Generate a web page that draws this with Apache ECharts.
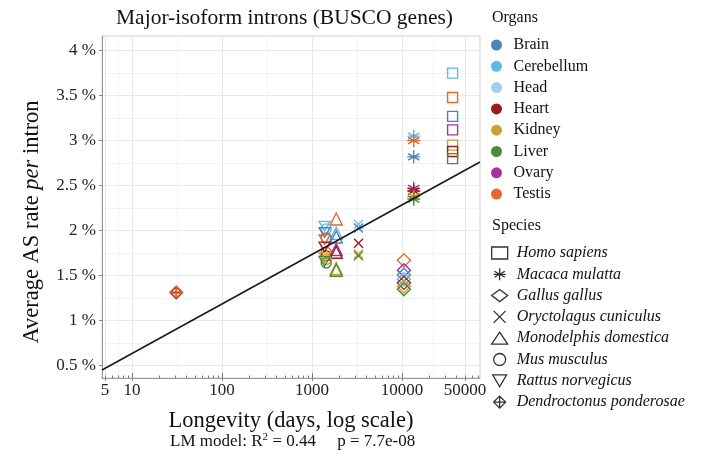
<!DOCTYPE html>
<html><head><meta charset="utf-8">
<script src="https://cdn.jsdelivr.net/npm/echarts@6/dist/echarts.min.js"></script>
<style>html,body{margin:0;padding:0;background:#fff}#c{width:722px;height:461px}</style>
</head><body><div id="c"></div>
<script>
// ---- data ----
const organs = ['Brain','Cerebellum','Head','Heart','Kidney','Liver','Ovary','Testis'];
const organColors = ['#4f82b4','#5bbbe6','#a3cde8','#9b1c20','#c9a331','#4a8a3a','#a8329e','#e2682c'];
const species = ['Homo sapiens','Macaca mulatta','Gallus gallus','Oryctolagus cuniculus','Monodelphis domestica','Mus musculus','Rattus norvegicus','Dendroctonus ponderosae'];
const longevity = [36500, 13500, 10500, 3285, 1860, 1440, 1380, 31];
const homoOrgans = ['Cerebellum','Testis','Brain','Ovary','Kidney','Heart','Liver'];
const homoRates  = [3.75, 3.48, 3.27, 3.12, 2.95, 2.88, 2.80];
const macacaOrgans = ['Cerebellum','Testis','Brain','Ovary','Heart','Kidney','Liver'];
const macacaRates  = [3.05, 3.00, 2.82, 2.47, 2.44, 2.38, 2.35];
const gallusOrgans = ['Testis','Ovary','Brain','Cerebellum','Heart','Kidney','Liver'];
const gallusRates  = [1.67, 1.56, 1.51, 1.46, 1.42, 1.38, 1.35];
const oryctoOrgans = ['Cerebellum','Brain','Heart','Kidney','Liver'];
const oryctoRates  = [2.07, 2.03, 1.86, 1.74, 1.72];
const monoOrgans = ['Testis','Cerebellum','Brain','Ovary','Heart','Kidney','Liver'];
const monoRates  = [2.13, 1.97, 1.93, 1.79, 1.76, 1.58, 1.56];
const musOrgans = ['Cerebellum','Brain','Testis','Heart','Kidney','Liver'];
const musRates  = [2.02, 1.92, 1.76, 1.72, 1.68, 1.64];
const rattusOrgans = ['Cerebellum','Brain','Testis','Heart','Kidney','Liver'];
const rattusRates  = [2.05, 1.98, 1.90, 1.82, 1.70, 1.66];
const dendroOrgans = ['Heart','Testis'];
const dendroRates  = [1.31, 1.32];
const lmLine = [[4.64, 0.452], [73600, 2.763]];
const xBreaks = [5, 10, 100, 1000, 10000, 50000];
const xMinorBreaks = [7.07, 31.6, 316, 3162, 22360];
const xLogTicksMajor = [10, 100, 1000, 10000];
const xLogTicksMinor = [5, 6, 7, 8, 9, 20, 30, 40, 50, 60, 70, 80, 90, 200, 300, 400, 500, 600, 700, 800, 900,
  2000, 3000, 4000, 5000, 6000, 7000, 8000, 9000, 20000, 30000, 40000, 50000, 60000, 70000];
const yBreaks = [0.5, 1, 1.5, 2, 2.5, 3, 3.5, 4];
const yMinorBreaks = [0.75, 1.25, 1.75, 2.25, 2.75, 3.25, 3.75];
// ---- end data ----

const FONT = '"Liberation Serif", "DejaVu Serif", serif';
const speciesOrgans = [homoOrgans, macacaOrgans, gallusOrgans, oryctoOrgans, monoOrgans, musOrgans, rattusOrgans, dendroOrgans];
const speciesRates = [homoRates, macacaRates, gallusRates, oryctoRates, monoRates, musRates, rattusRates, dendroRates];
const symbols = [
  'rect',
  'path://M0,-1L0,1M-0.866,-0.5L0.866,0.5M-0.866,0.5L0.866,-0.5M-1,0L1,0',
  'diamond',
  'path://M0,0L1,1M0,1L1,0',
  'triangle',
  'circle',
  'path://M0,0L2,0L1,1.732Z',
  'path://M1,0L2,1L1,2L0,1ZM1,0L1,2M0,1L2,1'
];
const sizes = [10, 13, 13, 9, 12, 10, 11, 12];
const colorOf = o => organColors[organs.indexOf(o)];

const series = [];
organs.forEach((o, i) => series.push({
  name: o, type: 'scatter', data: [], itemStyle: {color: organColors[i], opacity: 1}
}));
species.forEach((s, i) => {
  series.push({
    name: s, type: 'scatter', symbol: symbols[i], symbolSize: sizes[i], symbolKeepAspect: true,
    xAxisIndex: 0, yAxisIndex: 0, z: 3,
    itemStyle: {color: 'rgba(0,0,0,0)', borderColor: '#333', borderWidth: 1.4, opacity: 1},
    emphasis: {disabled: true},
    data: speciesOrgans[i].map((o, j) => ({
      value: [longevity[i], speciesRates[i][j]],
      itemStyle: {borderColor: colorOf(o)}
    }))
  });
});
series.push({
  type: 'line', data: lmLine, symbol: 'none', z: 4, silent: true,
  lineStyle: {color: '#1a1a1a', width: 1.6}
});

const logAxis = (extra) => Object.assign({type: 'log', logBase: 10, min: 4.64, max: 73600, position: 'bottom',
  axisLine: {show: false}, axisLabel: {show: false}, splitLine: {show: false}}, extra);

const chart = echarts.init(document.getElementById('c'), null, {renderer: 'canvas'});
chart.setOption({
  animation: false,
  backgroundColor: '#fff',
  title: [
    {text: 'Major-isoform introns (BUSCO genes)', left: 116, top: 7, padding: 0,
     textStyle: {fontFamily: FONT, fontSize: 21.5, fontWeight: 'normal', color: '#111'}},
    {text: 'Organs', left: 492, top: 10, padding: 0,
     textStyle: {fontFamily: FONT, fontSize: 16, fontWeight: 'normal', color: '#111'}},
    {text: 'Species', left: 492, top: 218, padding: 0,
     textStyle: {fontFamily: FONT, fontSize: 16, fontWeight: 'normal', color: '#111'}},
    {text: '{t|LM model: R}{s|2}{t| = 0.44     p = 7.7e-08}', left: 170, top: 432, padding: 0,
     textStyle: {fontWeight: 'normal', rich: {
       t: {fontFamily: FONT, fontSize: 17, fontWeight: 'normal', color: '#111', lineHeight: 19},
       s: {fontFamily: FONT, fontSize: 11, fontWeight: 'normal', color: '#111', lineHeight: 19, padding: [0, 0, 8, 0]}}}}
  ],
  legend: [
    {data: organs, orient: 'vertical', left: 491, top: 37, padding: 0, itemGap: 5.3,
     itemWidth: 16, itemHeight: 11, icon: 'circle', selectedMode: false,
     itemStyle: {opacity: 1},
     textStyle: {fontFamily: FONT, fontSize: 16, lineHeight: 16, color: '#111', padding: [0, 0, 0, 4]}},
    {data: species, orient: 'vertical', left: 491, top: 245, padding: 0, itemGap: 5.3,
     itemWidth: 16, itemHeight: 12, selectedMode: false,
     itemStyle: {color: 'rgba(0,0,0,0)', borderColor: '#333', borderWidth: 1.3, opacity: 1},
     textStyle: {fontFamily: FONT, fontSize: 16, lineHeight: 16, fontStyle: 'italic', color: '#111', padding: [0, 0, 0, 4]}}
  ],
  grid: {left: 102, right: 242, top: 36, bottom: 83, show: true, borderColor: '#cfcfcf', borderWidth: 1, containLabel: false},
  xAxis: [
    {type: 'log', logBase: 10, min: 4.64, max: 73600, position: 'bottom',
     name: 'Longevity (days, log scale)', nameLocation: 'middle', nameGap: 32,
     nameTextStyle: {fontFamily: FONT, fontSize: 22.5, color: '#111'},
     axisLine: {show: true, lineStyle: {color: '#9a9a9a'}},
     axisTick: {show: true, customValues: xBreaks, length: 3, lineStyle: {color: '#888'}},
     axisLabel: {customValues: xBreaks, formatter: v => String(Math.round(v)), margin: 4,
                 fontFamily: FONT, fontSize: 17, color: '#222'},
     splitLine: {show: true, lineStyle: {color: '#e8e8e8'}}},
    logAxis({axisTick: {show: false, customValues: xMinorBreaks},
             splitLine: {show: true, lineStyle: {color: '#f2f2f2'}}}),
    logAxis({axisTick: {show: true, inside: true, customValues: xLogTicksMajor, length: 5, lineStyle: {color: '#777'}}}),
    logAxis({axisTick: {show: true, inside: true, customValues: xLogTicksMinor, length: 2.5, lineStyle: {color: '#777'}}})
  ],
  yAxis: [
    {type: 'value', min: 0.363, max: 4.163, position: 'left',
     name: '{a|Average AS rate }{b|per}{a| intron}', nameLocation: 'middle', nameGap: 58, nameRotate: 90,
     nameTextStyle: {padding: [0, 30, 0, 0], rich: {a: {fontFamily: FONT, fontSize: 22.5, color: '#111'},
                            b: {fontFamily: FONT, fontSize: 22.5, fontStyle: 'italic', color: '#111'}}},
     axisLine: {show: true, lineStyle: {color: '#9a9a9a'}},
     axisTick: {show: true, customValues: yBreaks, length: 3, lineStyle: {color: '#888'}},
     axisLabel: {customValues: yBreaks, formatter: v => v + ' %', margin: 6,
                 fontFamily: FONT, fontSize: 17, color: '#222'},
     splitLine: {show: true, lineStyle: {color: '#e8e8e8'}}},
    {type: 'value', min: 0.363, max: 4.163, position: 'left',
     axisLine: {show: false}, axisTick: {show: false, customValues: yMinorBreaks},
     axisLabel: {show: false}, splitLine: {show: true, lineStyle: {color: '#f2f2f2'}}}
  ],
  series: series
});
</script></body></html>
